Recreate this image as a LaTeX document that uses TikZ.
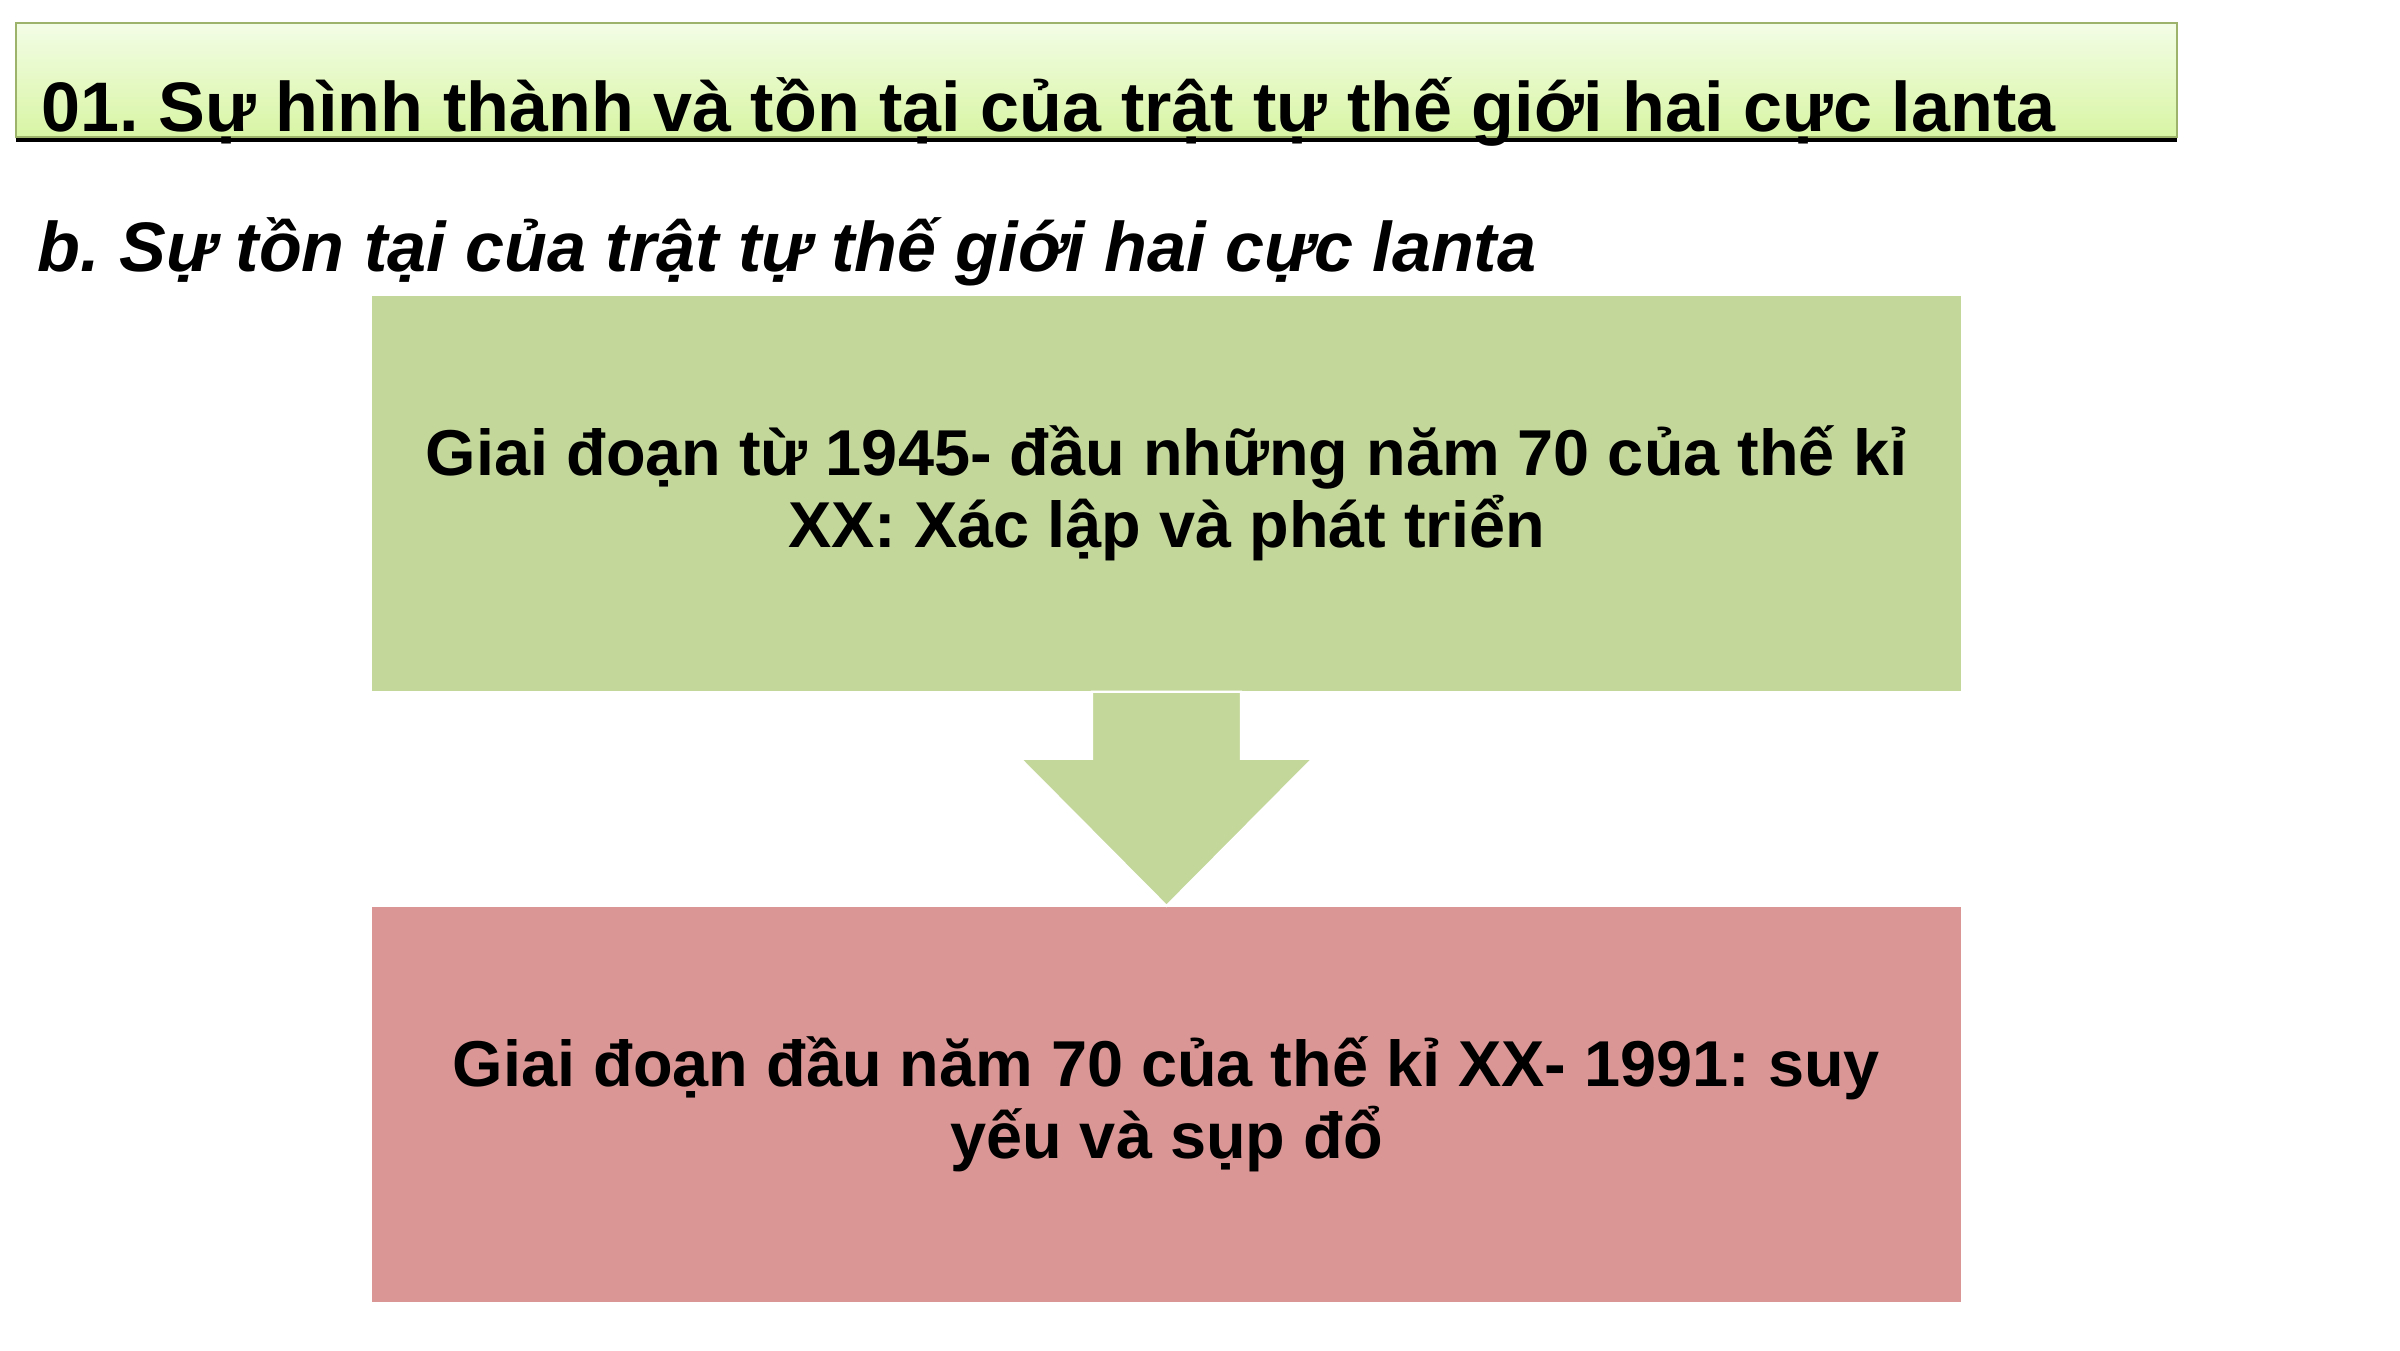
\documentclass[tikz,border=0pt]{standalone}
\usepackage{fontspec}
\setmainfont{Liberation Sans}
\usetikzlibrary{calc}
\frenchspacing
\definecolor{titletop}{HTML}{F3FDE6}
\definecolor{titlebot}{HTML}{D8F5A4}
\definecolor{titleline}{HTML}{9DB36B}
\definecolor{phaseone}{HTML}{C4D79B}
\definecolor{phasetwo}{HTML}{D99694}
\tikzset{
  phasebox/.style={rectangle,inner sep=0pt,minimum width=15.89cm,minimum height=3.95cm,
    align=center,font=\fontsize{18.45}{20.5}\selectfont\bfseries},
  headtext/.style={inner sep=0pt,anchor=base west,font=\fontsize{19.95}{24}\selectfont\bfseries}
}
\begin{document}
\begin{tikzpicture}
	\useasboundingbox[fill=white] (0,0) rectangle (24,-13.5);
	% title bar
	\shade[top color=titletop,bottom color=titlebot,draw=titleline,line width=0.6pt]
		(0.157,-0.227) rectangle (21.77,-1.37);
	\draw[line width=1.15pt] (0.157,-1.40) -- (21.77,-1.40);
	\node[headtext] (title) at (0.41,-1.31) {01. Sự hình thành và tồn tại của trật tự thế giới hai cực lanta};
	\node[headtext,font=\fontsize{19.95}{24}\selectfont\bfseries\itshape] (subtitle) at (0.37,-2.71)
		{b. Sự tồn tại của trật tự thế giới hai cực lanta};

	% the two phases
	\node[phasebox,fill=phaseone] (phase1) at (11.665,-4.935)
		{Giai đoạn từ 1945- đầu những năm 70 của thế kỉ\\XX: Xác lập và phát triển};
	\node[phasebox,fill=phasetwo] (phase2) at (11.665,-11.04)
		{Giai đoạn đầu năm 70 của thế kỉ XX- 1991: suy\\yếu và sụp đổ};

	% block arrow
	\fill[phaseone,draw=white,line width=0.6pt] ($(phase1.south)+(-0.745,0)$) -- ($(phase1.south)+(-0.745,-0.67)$)
		-- ($(phase1.south)+(-1.46,-0.67)$) -- (phase2.north) -- ($(phase1.south)+(1.46,-0.67)$)
		-- ($(phase1.south)+(0.745,-0.67)$) -- ($(phase1.south)+(0.745,0)$) -- cycle;
\end{tikzpicture}
\end{document}
